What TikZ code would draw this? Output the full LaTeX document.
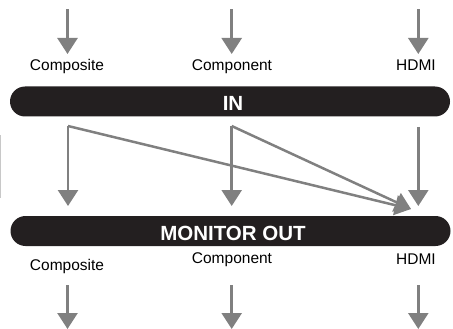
\documentclass[tikz,border=0pt]{standalone}
\usepackage{fontspec}
\setmainfont{Liberation Sans}
\usetikzlibrary{arrows.meta}
\definecolor{arrowgray}{HTML}{808080}
\definecolor{barblack}{HTML}{231F20}
\definecolor{faintgray}{HTML}{C8C8C8}
\begin{document}
\begin{tikzpicture}[x=1pt,y=-1pt,
  flow/.style={draw=arrowgray, line width=2.5pt, -{Triangle[length=16pt,width=20pt]}},
  bar/.style={fill=barblack, rounded corners=15pt, minimum width=440pt, minimum height=30pt, inner sep=0pt},
  bartext/.style={text=white, inner sep=0pt, font=\fontsize{20.5}{24}\selectfont\bfseries},
  lbl/.style={font=\fontsize{15.5}{18}\selectfont, inner sep=0pt, anchor=base}]
\path[use as bounding box] (0,0) rectangle (453,329);

% bars
\node[bar] (in) at (230,101.5) {};
\node[bartext] (intext) at (233,103.5) {IN};
\node[bar] (out) at (230.5,231) {};
\node[bartext] (outtext) at (233,233.5) {MONITOR OUT};

% top labels
\node[lbl] (tcomposite) at (67,71) {Composite};
\node[lbl] (tcomponent) at (232,71) {Component};
\node[lbl] (thdmi) at (416,71) {HDMI};

% bottom labels
\node[lbl] (bcomposite) at (67,270) {Composite};
\node[lbl] (bcomponent) at (232,263) {Component};
\node[lbl] (bhdmi) at (416,264) {HDMI};

% top arrows
\coordinate (ta1) at (67.5,9.5);  \coordinate (tb1) at (67.5,54);
\coordinate (ta2) at (231.7,9.5); \coordinate (tb2) at (231.7,54);
\coordinate (ta3) at (418.3,9.5); \coordinate (tb3) at (418.3,54);
\draw[flow] (ta1) -- (tb1);
\draw[flow] (ta2) -- (tb2);
\draw[flow] (ta3) -- (tb3);

% middle arrows
\coordinate (m1) at (68,126);  \coordinate (m1e) at (68,206);
\coordinate (m2) at (231.7,126); \coordinate (m2e) at (231.7,206);
\coordinate (m3) at (418.3,127); \coordinate (m3e) at (418.3,206);
\coordinate (mx) at (411,209);
\draw[flow] (m1) -- (m1e);
\draw[flow] (m2) -- (m2e);
\draw[flow] (m3) -- (m3e);
\draw[flow] (m1) -- (mx);
\draw[flow] (m2) -- (mx);

% bottom arrows
\coordinate (ba1) at (67.5,285);  \coordinate (bb1) at (67.5,329);
\coordinate (ba2) at (231.7,285); \coordinate (bb2) at (231.7,329);
\coordinate (ba3) at (418.3,285); \coordinate (bb3) at (418.3,329);
\draw[flow] (ba1) -- (bb1);
\draw[flow] (ba2) -- (bb2);
\draw[flow] (ba3) -- (bb3);

% faint edge line
\draw[faintgray, line width=1pt] (0.5,135) -- (0.5,198);
\end{tikzpicture}
\end{document}
